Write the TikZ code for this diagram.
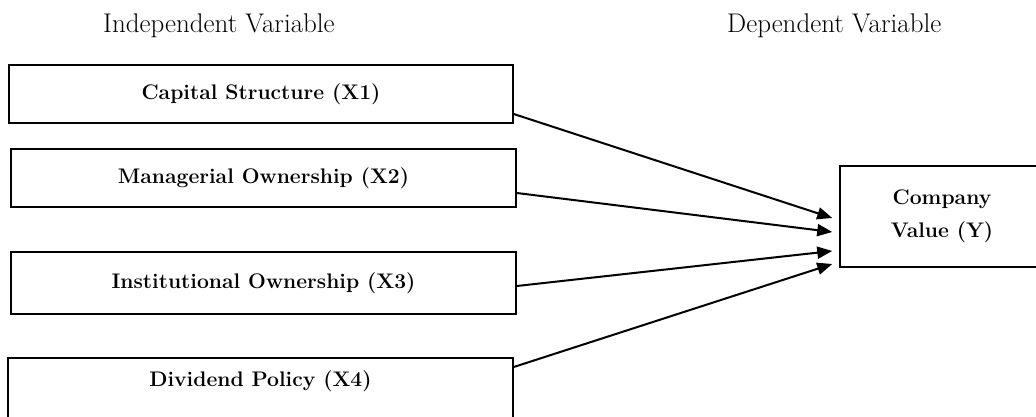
\documentclass[tikz,border=0pt]{standalone}
\usetikzlibrary{arrows.meta}
\begin{document}
\begin{tikzpicture}[x=1pt, y=-1pt,
    box/.style={draw, line width=1.5pt, inner sep=0pt, font=\fontsize{21.1}{33}\selectfont\bfseries},
    head/.style={anchor=base west, inner sep=0pt, font=\fontsize{27}{32}\selectfont},
    arr/.style={line width=2pt, -{Triangle[length=15pt, width=12pt]}}]
    \useasboundingbox (0,0) rectangle (1036,416);
    \clip (0,0) rectangle (1036,416);
    \node[head] (indep) at (103,32) {Independent Variable};
    \node[head] (dep) at (727,32) {Dependent Variable};
    \node[box, minimum width=504pt, minimum height=58pt] (x1) at (261,94) {Capital Structure (X1)};
    \node[box, minimum width=505pt, minimum height=58pt] (x2) at (263.5,178) {Managerial Ownership (X2)};
    \node[box, minimum width=505pt, minimum height=62pt] (x3) at (263.5,283) {Institutional Ownership (X3)};
    \node[box, anchor=north, minimum width=505pt, text height=29pt, text depth=50pt] (x4) at (260.5,357) {Dividend Policy (X4)};
    \node[box, align=center, minimum width=204pt, minimum height=101pt] (y) at (942,216.5) {Company\\Value (Y)};
    \draw[arr] ([yshift=-20pt]x1.east) -- ([xshift=-7pt, yshift=-1.5pt]y.west);
    \draw[arr] ([yshift=-15pt]x2.east) -- ([xshift=-7pt, yshift=-15.5pt]y.west);
    \draw[arr] ([yshift=-3pt]x3.east) -- ([xshift=-7pt, yshift=-34.5pt]y.west);
    \draw[arr] ([yshift=-10pt]x4.north east) -- ([xshift=-7pt, yshift=-47.5pt]y.west);
\end{tikzpicture}
\end{document}
